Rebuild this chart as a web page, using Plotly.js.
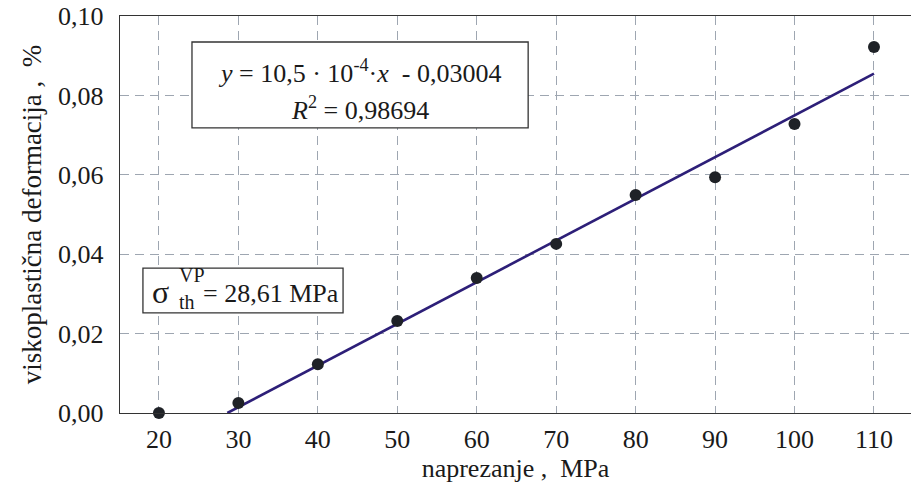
<!DOCTYPE html>
<html>
<head>
<meta charset="utf-8">
<script src="https://cdn.plot.ly/plotly-3.0.1.min.js"></script>
<style>html,body{margin:0;padding:0;background:#fff;}#chart{width:911px;height:488px;}</style>
</head>
<body>
<div id="chart"></div>
<script>
// Data
const stress = [20, 30, 40, 50, 60, 70, 80, 90, 100, 110];
const strain = [0.0000, 0.0025, 0.0123, 0.0232, 0.0340, 0.0426, 0.0549, 0.0594, 0.0728, 0.0922];
const slope = 10.5e-4;
const intercept = -0.03004;
const fitX = [28.61, 110];
const fitY = fitX.map(x => slope * x + intercept);
const xTickVals = [20, 30, 40, 50, 60, 70, 80, 90, 100, 110];
const xTickText = ["20", "30", "40", "50", "60", "70", "80", "90", "100", "110"];
const yTickVals = [0, 0.02, 0.04, 0.06, 0.08, 0.10];
const yTickText = ["0,00", "0,02", "0,04", "0,06", "0,08", "0,10"];

const font = "'Liberation Serif', 'Times New Roman', serif";
const gridColor = "#9ea6b1";
const txt = "#1a1a1a";

const traces = [
  {x: fitX, y: fitY, mode: "lines", line: {color: "#2d1f78", width: 2.6}, hoverinfo: "skip", showlegend: false, cliponaxis: false},
  {x: stress, y: strain, mode: "markers", marker: {color: "#1f2227", size: 12}, showlegend: false, cliponaxis: false}
];

const layout = {
  width: 911, height: 488,
  margin: {l: 120, r: 0, t: 16, b: 75},
  paper_bgcolor: "#fff", plot_bgcolor: "#fff",
  font: {family: font, color: txt, size: 26},
  xaxis: {
    range: [15.1, 114.66], tickvals: xTickVals, ticktext: xTickText,
    showgrid: true, gridcolor: gridColor, gridwidth: 1, griddash: "9px,6px",
    showline: true, linecolor: "#333", linewidth: 1.3, mirror: true,
    zeroline: false, ticks: "", ticklabelstandoff: 2,
    tickfont: {family: font, size: 26, color: txt},
    title: {text: "naprezanje ,  MPa", font: {family: font, size: 26, color: txt}, standoff: 6}
  },
  yaxis: {
    range: [0, 0.10], tickvals: yTickVals, ticktext: yTickText,
    showgrid: true, gridcolor: gridColor, gridwidth: 1, griddash: "9px,6px",
    showline: true, linecolor: "#333", linewidth: 1.3,
    zeroline: false, ticks: "", ticklabelstandoff: 10,
    tickfont: {family: font, size: 26, color: txt},
    title: {text: "viskoplastična deformacija ,  %", font: {family: font, size: 27, color: txt}, standoff: 8}
  },
  shapes: [
    {type: "rect", xref: "paper", yref: "paper", x0: 0.091, x1: 0.516, y0: 0.718, y1: 0.9345,
     line: {color: "#333", width: 1.3}, fillcolor: "#fff", layer: "above"},
    {type: "rect", xref: "paper", yref: "paper", x0: 0.029, x1: 0.282, y0: 0.252, y1: 0.365,
     line: {color: "#333", width: 1.3}, fillcolor: "#fff", layer: "above"}
  ],
  annotations: [
    {xref: "paper", yref: "paper", x: 0.3034, y: 0.859, xanchor: "center", yanchor: "middle", showarrow: false,
     text: "<i>y</i> = 10,5 · 10<sup>-4</sup>·<i>x</i>  - 0,03004",
     font: {family: font, size: 26, color: txt}},
    {xref: "paper", yref: "paper", x: 0.3034, y: 0.768, xanchor: "center", yanchor: "middle", showarrow: false,
     text: "<i>R</i><sup>2</sup> = 0,98694",
     font: {family: font, size: 26, color: txt}},
    {xref: "paper", yref: "paper", x: 0.0518, y: 0.305, xanchor: "center", yanchor: "middle", showarrow: false,
     text: "σ", font: {family: font, size: 32, color: txt}},
    {xref: "paper", yref: "paper", x: 0.0905, y: 0.3476, xanchor: "center", yanchor: "middle", showarrow: false,
     text: "VP", font: {family: font, size: 20, color: txt}},
    {xref: "paper", yref: "paper", x: 0.0845, y: 0.2796, xanchor: "center", yanchor: "middle", showarrow: false,
     text: "th", font: {family: font, size: 20, color: txt}},
    {xref: "paper", yref: "paper", x: 0.102, y: 0.30, xanchor: "left", yanchor: "middle", showarrow: false,
     text: "= 28,61 MPa", font: {family: font, size: 26, color: txt}}
  ]
};

Plotly.newPlot("chart", traces, layout, {displayModeBar: false, staticPlot: true});
</script>
</body>
</html>
